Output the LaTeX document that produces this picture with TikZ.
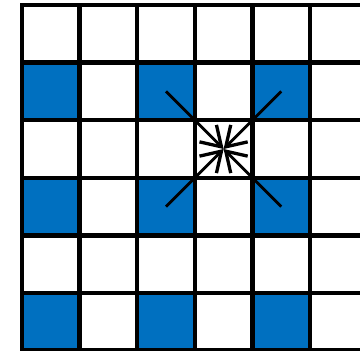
\documentclass[tikz,border=0pt]{standalone}
\usetikzlibrary{arrows.meta}
\definecolor{cellblue}{HTML}{0070C0}
\begin{document}
\begin{tikzpicture}[x=1pt,y=-1pt,
  gridline/.style={line width=4.3pt, line cap=rect},
  ray/.style={line width=2.8pt, -{Straight Barb[length=19pt,width=24pt,line width=3.3pt]}}]
\useasboundingbox (0,0) rectangle (360,351);
\clip (0,0) rectangle (360,351);
\def\cs{57.6}
\foreach \r in {1,3,5} \foreach \c in {0,2,4}
  \fill[cellblue] ({22+\c*\cs},{5+\r*\cs}) rectangle ++(\cs,\cs);
\foreach \i in {0,...,6}
  \draw[gridline] ({22+\i*\cs},5) -- ({22+\i*\cs},{5+6*\cs});
\foreach \j in {0,...,6}
  \draw[gridline] (22,{5+\j*\cs}) -- ({22+7*\cs},{5+\j*\cs});
\coordinate (ctr) at ({22+3.5*\cs},{5+2.5*\cs});
\coordinate (nw) at ({22+2.5*\cs},{5+1.5*\cs});
\coordinate (ne) at ({22+4.5*\cs},{5+1.5*\cs});
\coordinate (sw) at ({22+2.5*\cs},{5+3.5*\cs});
\coordinate (se) at ({22+4.5*\cs},{5+3.5*\cs});
\foreach \s in {nw,ne,sw,se}
  \draw[ray] (\s) -- (ctr);
\end{tikzpicture}
\end{document}
